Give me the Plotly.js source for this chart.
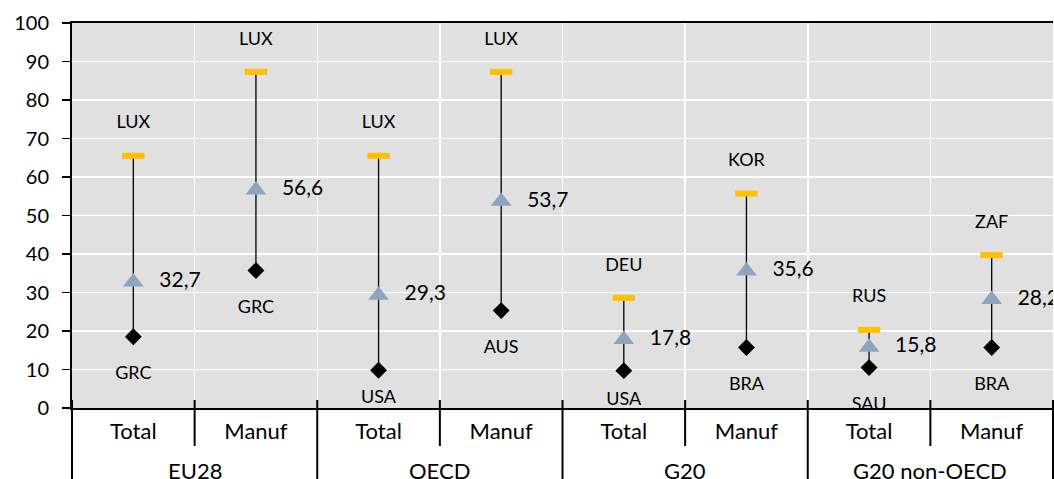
<!DOCTYPE html>
<html>
<head>
<meta charset="utf-8">
<script src="https://cdn.plot.ly/plotly-3.0.1.min.js"></script>
<style>html,body{margin:0;padding:0;background:#fff;}#chart{width:1054px;height:479px;}</style>
</head>
<body>
<div id="chart"></div>
<script>
var groups = ["EU28", "EU28", "OECD", "OECD", "G20", "G20", "G20 non-OECD", "G20 non-OECD"];
var sectors = ["Total", "Manuf", "Total", "Manuf", "Total", "Manuf", "Total", "Manuf"];
var maxValues = [65.5, 87.3, 65.5, 87.3, 28.6, 55.7, 20.3, 39.7];
var maxCountries = ["LUX", "LUX", "LUX", "LUX", "DEU", "KOR", "RUS", "ZAF"];
var avgValues = [32.7, 56.6, 29.3, 53.7, 17.8, 35.6, 15.8, 28.2];
var minValues = [18.5, 35.7, 9.8, 25.3, 9.7, 15.7, 10.5, 15.7];
var minCountries = ["GRC", "GRC", "USA", "AUS", "USA", "BRA", "SAU", "BRA"];
var yTicks = [0, 10, 20, 30, 40, 50, 60, 70, 80, 90, 100];

var FONT = "Lato, 'Open Sans', sans-serif";
var keys = groups.map(function (g, i) { return g + " | " + sectors[i]; });
var x = keys;
var avgLabels = avgValues.map(function (v) { return v.toFixed(1).replace(".", ","); });
var errPlus = maxValues.map(function (v, i) { return v - avgValues[i]; });
var errMinus = minValues.map(function (v, i) { return avgValues[i] - v; });
var clear = "rgba(0,0,0,0)";
var n = keys.length;

var traces = [
  {
    type: "scatter", mode: "markers", x: x, y: avgValues, hoverinfo: "skip",
    marker: {symbol: "triangle-up", size: 18, color: "#8EA5BF", line: {width: 0}},
    error_y: {type: "data", symmetric: false, array: errPlus, arrayminus: errMinus,
              width: 0, thickness: 1.3, color: "#000"}
  },
  {
    type: "scatter", mode: "markers", x: x, y: maxValues, hoverinfo: "skip",
    marker: {symbol: "line-ew", size: 16, color: "#FFC000", line: {color: "#FFC000", width: 6}}
  },
  {
    type: "scatter", mode: "markers", x: x, y: minValues, hoverinfo: "skip",
    marker: {symbol: "diamond", size: 13, color: "#000", line: {width: 0}}
  },
  {
    type: "scatter", mode: "markers+text", x: x, y: avgValues, text: avgLabels,
    textposition: "middle right", hoverinfo: "skip",
    marker: {size: 40, color: clear, line: {width: 0, color: clear}},
    textfont: {family: FONT, size: 21, color: "#000"}
  },
  {
    type: "scatter", mode: "markers+text", x: x, y: maxValues, text: maxCountries,
    textposition: "top center", hoverinfo: "skip",
    marker: {size: 35, color: clear, line: {width: 0, color: clear}},
    textfont: {family: FONT, size: 18, color: "#000"}
  },
  {
    type: "scatter", mode: "markers+text", x: x, y: minValues, text: minCountries,
    textposition: "bottom center", hoverinfo: "skip",
    marker: {size: [45, 45, 29, 45, 32, 45, 45, 45], color: clear, line: {width: 0, color: clear}},
    textfont: {family: FONT, size: 18, color: "#000"}
  }
];

var PH = 385;
var shapes = [];
var annotations = [];
for (var k = 0; k <= n; k++) {
  var groupEdge = (k === 0 || k === n || groups[k] !== groups[k - 1]);
  shapes.push({type: "line", xref: "paper", yref: "paper", x0: k / n, x1: k / n,
               y0: 8 / PH, y1: groupEdge ? -72 / PH : -38 / PH,
               line: {color: "#000", width: 2}, layer: "above"});
}
var uniqueGroups = groups.filter(function (g, i) { return groups.indexOf(g) === i; });
uniqueGroups.forEach(function (g) {
  var first = groups.indexOf(g), last = groups.lastIndexOf(g);
  annotations.push({xref: "paper", yref: "paper", x: (first + last + 1) / 2 / n,
                    y: -62 / PH, yanchor: "middle", xanchor: "center", showarrow: false,
                    text: g, font: {family: FONT, size: 22, color: "#000"}});
});

var layout = {
  width: 1054, height: 479,
  margin: {l: 72, r: 1, t: 23, b: 71},
  paper_bgcolor: "#fff", plot_bgcolor: "#E0E0E0",
  showlegend: false,
  font: {family: FONT, color: "#000"},
  xaxis: {
    type: "category",
    range: [-0.5, n - 0.5], autorange: false,
    tickmode: "array", tickvals: keys, ticktext: sectors,
    tickson: "boundaries",
    showgrid: true, gridcolor: "#fff", gridwidth: 1.5,
    ticks: "",
    ticklabelstandoff: 3,
    showline: true, linecolor: "#000", linewidth: 2, mirror: true,
    tickfont: {family: FONT, size: 22, color: "#000"},
    zeroline: false, fixedrange: true
  },
  yaxis: {
    range: [0, 100], autorange: false, tickvals: yTicks, ticktext: yTicks.map(String),
    showgrid: true, gridcolor: "#fff", gridwidth: 1.5,
    ticks: "outside", ticklen: 8, tickwidth: 1.5, tickcolor: "#000",
    ticklabelstandoff: 9,
    showline: true, linecolor: "#000", linewidth: 2,
    tickfont: {family: FONT, size: 20, color: "#000"},
    zeroline: false, fixedrange: true
  },
  shapes: shapes,
  annotations: annotations
};

Plotly.newPlot("chart", traces, layout, {displayModeBar: false, staticPlot: true});
</script>
</body>
</html>
